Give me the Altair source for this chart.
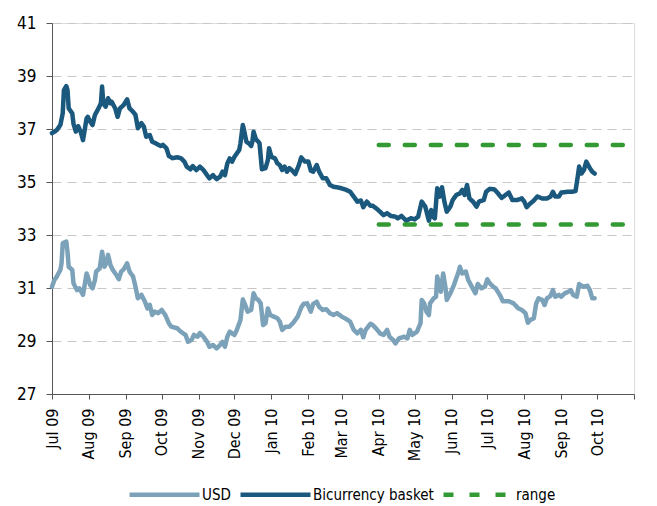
import altair as alt
import pandas as pd

# Day offsets from 1 Jul 2009 and the exchange-rate readings for each series
usd_days = [0, 2, 4, 7, 8, 9, 12, 13, 14, 17, 18, 21, 23, 26, 29, 30, 32, 34, 36, 37,
            40, 42, 44, 46, 47, 49, 51, 54, 56, 58, 60, 63, 65, 68, 70, 72, 75, 78, 80, 82,
            84, 86, 89, 92, 95, 98, 100, 105, 108, 112, 114, 117, 119, 122, 124, 127, 130, 132, 135, 138,
            141, 143, 145, 147, 149, 151, 153, 155, 158, 160, 162, 164, 167, 169, 171, 173, 175, 177, 179, 181,
            183, 186, 189, 191, 193, 196, 199, 202, 206, 209, 211, 214, 217, 219, 222, 224, 227, 230, 233, 236,
            239, 243, 247, 250, 253, 256, 259, 261, 263, 267, 269, 272, 275, 278, 281, 283, 286, 288, 291, 295,
            298, 300, 302, 306, 309, 310, 312, 314, 316, 317, 320, 322, 323, 325, 326, 328, 330, 331, 334, 337,
            339, 341, 342, 344, 347, 349, 352, 355, 357, 360, 363, 365, 367, 370, 372, 376, 378, 383, 387, 391,
            394, 397, 399, 401, 404, 406, 408, 411, 413, 415, 418, 420, 422, 425, 427, 430, 433, 435, 437, 440,
            442, 444, 446, 449, 451, 453, 455]
usd_vals = [31.05, 31.30, 31.43, 31.68, 31.93, 32.69, 32.75, 32.37, 31.80, 31.68, 31.18, 30.92, 30.99, 30.74, 31.55, 31.43, 31.11, 30.99, 31.30, 31.62,
            31.74, 32.37, 31.80, 31.99, 32.25, 31.87, 31.68, 31.49, 31.33, 31.62, 31.70, 31.93, 31.62, 31.43, 31.05, 30.61, 30.74, 30.48, 30.23, 30.36,
            29.98, 30.11, 30.05, 30.17, 29.98, 29.67, 29.54, 29.48, 29.35, 29.23, 28.97, 29.04, 29.23, 29.16, 29.30, 29.16, 28.97, 28.78, 28.85, 28.72,
            28.85, 28.97, 28.78, 29.16, 29.35, 29.29, 29.23, 29.42, 29.79, 30.57, 30.36, 30.11, 30.17, 30.80, 30.61, 30.55, 30.42, 29.60, 29.67, 30.23,
            29.98, 29.92, 29.86, 29.73, 29.42, 29.54, 29.54, 29.67, 29.92, 30.27, 30.40, 30.42, 30.11, 30.40, 30.48, 30.29, 30.17, 30.20, 30.05, 29.98,
            30.05, 29.92, 29.82, 29.73, 29.42, 29.29, 29.42, 29.14, 29.42, 29.65, 29.60, 29.46, 29.29, 29.23, 29.42, 29.16, 29.04, 28.91, 29.10, 29.16,
            29.10, 29.42, 29.23, 29.35, 29.67, 30.55, 30.42, 30.11, 29.98, 30.42, 30.61, 30.67, 31.43, 31.05, 30.86, 31.55, 30.99, 30.55, 30.80, 31.11,
            31.37, 31.62, 31.80, 31.55, 31.62, 31.30, 31.05, 30.80, 31.15, 30.99, 31.05, 31.33, 31.18, 31.05, 30.99, 30.70, 30.50, 30.50, 30.42, 30.23,
            30.17, 30.05, 29.69, 29.79, 29.86, 30.42, 30.61, 30.55, 30.36, 30.61, 30.70, 30.92, 30.67, 30.74, 30.67, 30.80, 30.86, 30.92, 30.74, 30.67,
            31.15, 31.08, 31.05, 31.08, 30.92, 30.61, 30.61]

basket_days = [0, 4, 7, 9, 10, 12, 13, 14, 17, 18, 20, 22, 24, 26, 29, 30, 32, 34, 36, 39,
               41, 42, 43, 45, 47, 49, 50, 53, 55, 57, 60, 63, 65, 68, 70, 72, 75, 77, 79, 82,
               84, 87, 91, 93, 96, 98, 101, 105, 108, 111, 113, 116, 118, 121, 124, 127, 130, 132, 135, 138,
               141, 143, 145, 147, 149, 151, 153, 155, 157, 158, 160, 161, 163, 165, 167, 168, 169, 171, 173, 174,
               176, 179, 181, 182, 184, 187, 189, 191, 193, 195, 197, 199, 201, 204, 207, 209, 212, 215, 217, 219,
               222, 224, 227, 230, 233, 236, 239, 243, 247, 250, 253, 256, 259, 261, 264, 267, 269, 272, 275, 278,
               281, 284, 288, 290, 293, 297, 301, 304, 307, 310, 313, 316, 318, 320, 321, 323, 325, 327, 329, 331,
               334, 336, 339, 342, 344, 346, 348, 350, 353, 356, 358, 362, 364, 367, 371, 374, 377, 380, 383, 386,
               390, 394, 396, 398, 401, 404, 407, 411, 415, 418, 420, 422, 425, 427, 432, 436, 439, 441, 442, 444,
               446, 448, 451, 453, 455]
basket_vals = [36.84, 36.96, 37.15, 37.59, 38.47, 38.62, 38.47, 37.78, 37.59, 37.20, 36.90, 37.10, 36.90, 36.58, 37.40, 37.46, 37.28, 37.15, 37.53, 37.78,
               37.97, 38.60, 37.97, 37.84, 38.16, 37.97, 38.03, 37.78, 37.46, 37.78, 37.90, 38.12, 37.78, 37.65, 37.53, 37.03, 37.22, 37.09, 36.71, 36.77,
               36.52, 36.46, 36.36, 36.40, 36.27, 35.98, 35.90, 35.93, 35.90, 35.77, 35.58, 35.48, 35.60, 35.45, 35.58, 35.45, 35.26, 35.14, 35.26, 35.11,
               35.20, 35.39, 35.26, 35.70, 35.89, 35.77, 35.95, 36.08, 36.21, 36.46, 37.15, 36.96, 36.52, 36.46, 36.36, 36.52, 36.90, 36.61, 36.52, 36.46,
               35.48, 35.52, 35.83, 36.27, 35.95, 35.89, 35.70, 35.64, 35.45, 35.58, 35.39, 35.52, 35.45, 35.30, 35.64, 35.93, 35.77, 35.77, 35.43, 35.39,
               35.64, 35.39, 35.14, 35.14, 34.89, 34.82, 34.80, 34.76, 34.70, 34.63, 34.45, 34.26, 34.30, 34.05, 34.26, 34.10, 34.10, 34.00, 33.88, 33.75,
               33.82, 33.72, 33.69, 33.63, 33.72, 33.54, 33.63, 33.59, 33.69, 34.26, 34.07, 33.54, 33.94, 33.67, 33.63, 34.76, 34.45, 34.80, 34.26, 33.88,
               34.07, 34.32, 34.51, 34.57, 34.70, 34.51, 34.89, 34.38, 34.26, 34.07, 34.26, 34.32, 34.63, 34.74, 34.72, 34.57, 34.40, 34.50, 34.60, 34.32,
               34.32, 34.38, 34.26, 34.05, 34.19, 34.30, 34.45, 34.38, 34.38, 34.45, 34.63, 34.45, 34.45, 34.60, 34.63, 34.63, 34.66, 35.26, 35.58, 35.32,
               35.45, 35.77, 35.52, 35.39, 35.32]

# Target band for the basket, from April 2010 onwards
range_dates = ["2010-04-01", "2010-11-01"]
range_upper = 36.4
range_lower = 33.4

series_names = ["USD", "Bicurrency basket", "range"]
series_colors = ["#7ca2ba", "#1b587d", "#339933"]

start = pd.Timestamp("2009-07-01")


def frame(days, vals, name):
    dates = start + pd.to_timedelta(days, unit="D")
    return pd.DataFrame({"date": dates.strftime("%Y-%m-%d"), "value": vals,
                         "series": name, "seg": name})


band = pd.DataFrame({
    "date": range_dates * 2,
    "value": [range_upper, range_upper, range_lower, range_lower],
    "series": "range",
    "seg": ["upper", "upper", "lower", "lower"],
})

data = pd.concat([frame(usd_days, usd_vals, "USD"),
                  frame(basket_days, basket_vals, "Bicurrency basket"),
                  band], ignore_index=True)

FONT = "DejaVu Sans Condensed, sans-serif"

month_ticks = [alt.DateTime(year=2009 + (6 + i) // 12, month=(6 + i) % 12 + 1, date=1)
               for i in range(17)]

legend = alt.Legend(
    title=None, orient="none", direction="horizontal",
    legendX=75, legendY=434,
    symbolType="stroke", symbolSize=4900, symbolStrokeWidth=4.5,
    labelFont=FONT, labelFontSize=15, labelColor="#000000",
    labelOffset=0, columnPadding=0,
)

chart = alt.Chart(data).mark_line(strokeWidth=4.5, strokeJoin="round", strokeCap="round").encode(
    x=alt.X("date:T",
            scale=alt.Scale(domain=[month_ticks[0], month_ticks[-1]]),
            axis=alt.Axis(title=None, values=month_ticks, grid=False,
                          labelAngle=270, labelAlign="right", labelBaseline="middle",
                          labelExpr="datum.value >= datetime(2010, 10, 1) ? '' : timeFormat(datum.value, '%b %y')",
                          labelFont=FONT, labelFontSize=16, labelColor="#000000",
                          labelPadding=9, tickSize=5, labelOverlap=False,
                          domainColor="#555555", tickColor="#555555")),
    y=alt.Y("value:Q",
            scale=alt.Scale(domain=[27, 41], nice=False, zero=False),
            axis=alt.Axis(title=None, values=list(range(27, 42, 2)),
                          labelFont=FONT, labelFontSize=17, labelColor="#000000",
                          labelPadding=10, tickSize=6,
                          domainColor="#555555", tickColor="#555555",
                          grid=True, gridColor="#c8c8c8", gridDash=[9, 6], gridWidth=1)),
    color=alt.Color("series:N", scale=alt.Scale(domain=series_names, range=series_colors),
                    legend=legend),
    strokeDash=alt.StrokeDash("series:N",
                              scale=alt.Scale(domain=series_names,
                                              range=[[1, 0], [1, 0], [10, 16]]),
                              legend=legend),
    detail="seg:N",
).properties(
    width=582, height=371,
    autosize=alt.AutoSizeParams(type="none"),
    padding={"left": 52, "top": 23, "right": 23, "bottom": 112},
).configure_view(stroke=None).configure(background="white")

chart.save("out.html", embed_options={"renderer": "svg", "actions": False})
